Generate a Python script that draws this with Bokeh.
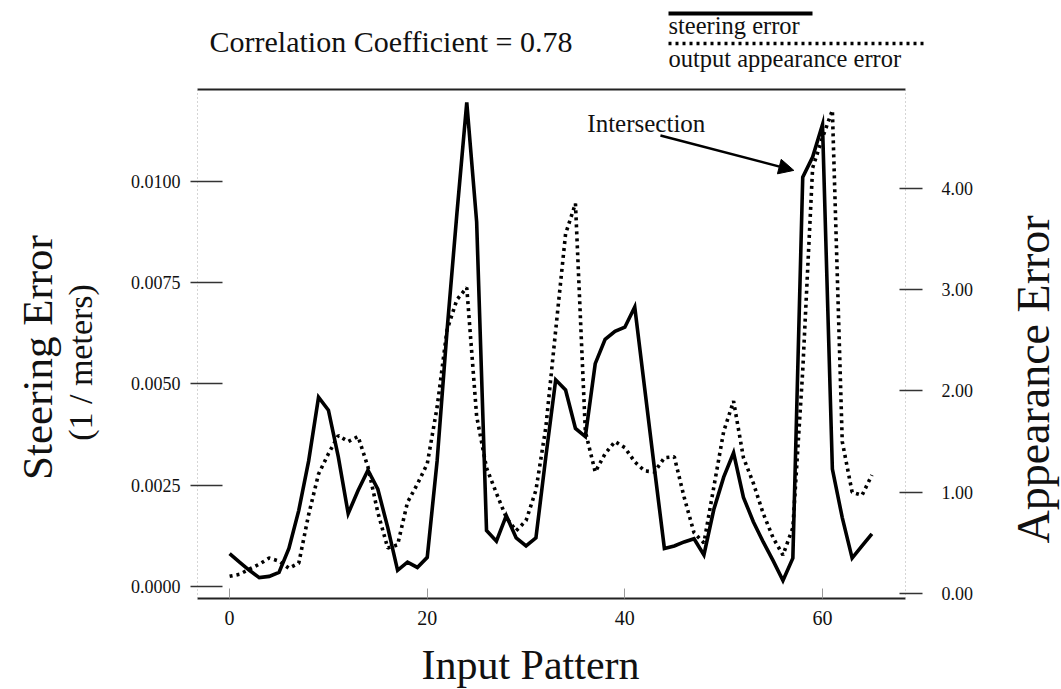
from math import pi
from bokeh.plotting import figure
from bokeh.layouts import column, row
from bokeh.models import (LinearAxis, Range1d, FixedTicker, PrintfTickFormatter,
                          Label, Arrow, NormalHead, ColumnDataSource)
from bokeh.embed import file_html
from bokeh.resources import INLINE

# ---------------- data ----------------
pattern = list(range(66))

steering_error = [
    0.00081, 0.00060, 0.00040, 0.00022, 0.00025, 0.00035, 0.00094, 0.00188, 0.00310, 0.00467,
    0.00435, 0.00320, 0.00180, 0.00237, 0.00287, 0.00240, 0.00146, 0.00040, 0.00060, 0.00047,
    0.00072, 0.00310, 0.00630, 0.00920, 0.01195, 0.00900, 0.00138, 0.00112, 0.00175, 0.00120,
    0.00100, 0.00120, 0.00320, 0.00510, 0.00485, 0.00390, 0.00370, 0.00550, 0.00610, 0.00630,
    0.00640, 0.00690, 0.00490, 0.00290, 0.00094, 0.00100, 0.00110, 0.00118, 0.00078, 0.00190,
    0.00270, 0.00330, 0.00220, 0.00160, 0.00110, 0.00064, 0.00015, 0.00070, 0.01010, 0.01060,
    0.01140, 0.00290, 0.00170, 0.00070, 0.00100, 0.00130,
]

appearance_error = [
    0.17, 0.19, 0.24, 0.29, 0.35, 0.32, 0.25, 0.30, 0.78, 1.18,
    1.38, 1.56, 1.50, 1.55, 1.25, 0.80, 0.45, 0.48, 0.90, 1.08,
    1.28, 1.84, 2.60, 2.90, 3.02, 1.75, 1.24, 0.99, 0.75, 0.62,
    0.72, 1.02, 1.64, 2.60, 3.55, 3.85, 1.60, 1.20, 1.38, 1.50,
    1.44, 1.30, 1.21, 1.20, 1.34, 1.35, 0.95, 0.60, 0.50, 1.05,
    1.60, 1.90, 1.34, 1.09, 0.79, 0.55, 0.38, 0.65, 2.20, 4.20,
    4.50, 4.77, 1.50, 1.00, 0.97, 1.17,
]

steering_ticks = [0.0, 0.0025, 0.0050, 0.0075, 0.0100]
appearance_ticks = [0.0, 1.0, 2.0, 3.0, 4.0]
pattern_ticks = [0, 20, 40, 60]

title_text = "Correlation  Coefficient = 0.78"
legend_labels = ["steering error", "output appearance error"]
left_titles = ["Steering Error", "(1 / meters)"]
right_title = "Appearance Error"
x_title = "Input Pattern"
annotation_text = "Intersection"
# annotation arrow (data coordinates: pattern, steering error)
arrow_start = (43.6, 0.01113)
arrow_end = (57.1, 0.01027)
annotation_pos = (36.2, 0.01143)

FONT = "Liberation Serif"
INK = "#111111"


def blank(w, h):
    f = figure(width=w, height=h, output_backend="svg", toolbar_location=None,
               x_axis_location=None, y_axis_location=None,
               x_range=Range1d(0, 1), y_range=Range1d(0, 1),
               min_border=0, min_border_left=0, min_border_right=0,
               min_border_top=0, min_border_bottom=0)
    f.outline_line_color = None
    f.grid.visible = False
    return f


def lab(f, text, x, y, size, angle=0.0, align="left", baseline="alphabetic"):
    f.add_layout(Label(x=x, y=y, x_units="screen", y_units="screen", text=text, angle=angle,
                       text_font=FONT, text_font_size=size, text_color=INK,
                       text_align=align, text_baseline=baseline))


# ---------------- header (title + legend) ----------------
HEAD_H = 80
head = blank(1061, HEAD_H)
lab(head, title_text, 209, 39, "30px")
lab(head, legend_labels[0], 668, 55, "24.5px")
lab(head, legend_labels[1], 668, 22, "24.5px")
head.add_layout(Arrow(end=None, x_start=668, y_start=HEAD_H - 13, x_end=812, y_end=HEAD_H - 13,
                      start_units="screen", end_units="screen", line_width=4, line_color="black"))
head.add_layout(Arrow(end=None, x_start=668, y_start=HEAD_H - 43, x_end=925, y_end=HEAD_H - 43,
                      start_units="screen", end_units="screen", line_width=3.6,
                      line_color="black", line_dash="3 4"))

# ---------------- main plot ----------------
MID_H = 552
LEFT_W = 125
RIGHT_W = 84
MAIN_W = 1061 - LEFT_W - RIGHT_W

src = ColumnDataSource(dict(x=pattern, s=steering_error, a=appearance_error))

p = figure(width=MAIN_W, height=MID_H, output_backend="svg", toolbar_location=None,
           x_range=Range1d(-3.25, 68.4), y_range=Range1d(-0.000296, 0.012266),
           min_border_left=72, min_border_right=72, min_border_top=9, min_border_bottom=34)
p.outline_line_color = None
p.xgrid.visible = False
p.ygrid.visible = False
p.extra_y_ranges = {"app": Range1d(-0.049, 4.975)}

p.line("x", "s", source=src, line_color="black", line_width=3.6, line_join="miter")
p.line("x", "a", source=src, y_range_name="app", line_color="black", line_width=3.6,
       line_dash="3 4", line_cap="butt")

xa = p.xaxis[0]
xa.ticker = FixedTicker(ticks=pattern_ticks)
xa.axis_line_width = 2
xa.axis_line_color = "#222222"
xa.major_tick_in = 10
xa.major_tick_out = 0
xa.major_tick_line_color = "#999999"
xa.minor_tick_line_color = None
xa.major_label_text_font = FONT
xa.major_label_text_font_size = "20px"
xa.major_label_text_color = INK
xa.major_label_standoff = 12

ya = p.yaxis[0]
ya.ticker = FixedTicker(ticks=steering_ticks)
ya.formatter = PrintfTickFormatter(format="%.4f")
ya.axis_line_color = "#aaaaaa"
ya.axis_line_dash = "1 3"
ya.major_tick_in = 25
ya.major_tick_out = 7
ya.major_tick_line_color = "#333333"
ya.major_tick_line_width = 1.5
ya.minor_tick_line_color = None
ya.major_label_text_font = FONT
ya.major_label_text_font_size = "18px"
ya.major_label_text_color = INK
ya.major_label_standoff = 10

ra = LinearAxis(y_range_name="app", ticker=FixedTicker(ticks=appearance_ticks),
                formatter=PrintfTickFormatter(format="%.2f"))
ra.axis_line_color = "#aaaaaa"
ra.axis_line_dash = "1 3"
ra.major_tick_in = 6
ra.major_tick_out = 17
ra.major_tick_line_color = "#333333"
ra.major_tick_line_width = 1.5
ra.minor_tick_line_color = None
ra.major_label_text_font = FONT
ra.major_label_text_font_size = "18px"
ra.major_label_text_color = INK
ra.major_label_standoff = 19
p.add_layout(ra, "right")

ta = LinearAxis(ticker=FixedTicker(ticks=[]))
ta.axis_line_width = 2
ta.axis_line_color = "#222222"
ta.major_tick_in = 0
ta.major_tick_out = 0
ta.major_label_standoff = 0
ta.axis_label_standoff = 0
ta.minor_tick_line_color = None
ta.major_label_text_font_size = "0px"
p.add_layout(ta, "above")

p.add_layout(Label(x=annotation_pos[0], y=annotation_pos[1], text=annotation_text,
                   text_font=FONT, text_font_size="25px", text_color=INK,
                   text_baseline="middle"))
p.add_layout(Arrow(end=NormalHead(size=15, fill_color="black", line_color="black"),
                   x_start=arrow_start[0], y_start=arrow_start[1],
                   x_end=arrow_end[0], y_end=arrow_end[1],
                   line_width=2.5, line_color="black"))

# ---------------- side strips with rotated titles ----------------
left = blank(LEFT_W, MID_H)
lab(left, left_titles[0], 37, 241, "43px", angle=pi / 2, align="center")
lab(left, left_titles[1], 80, 236, "34px", angle=pi / 2, align="center")

right = blank(RIGHT_W, MID_H)
lab(right, right_title, 56, 219, "46px", angle=pi / 2, align="center")

# ---------------- footer with x title ----------------
FOOT_H = 689 - HEAD_H - MID_H
foot = blank(1061, FOOT_H)
lab(foot, x_title, 530, 25, "42px", align="center")

layout = column(head, row(left, p, right, spacing=0), foot, spacing=0)

open("out.html", "w").write(file_html(layout, INLINE))
